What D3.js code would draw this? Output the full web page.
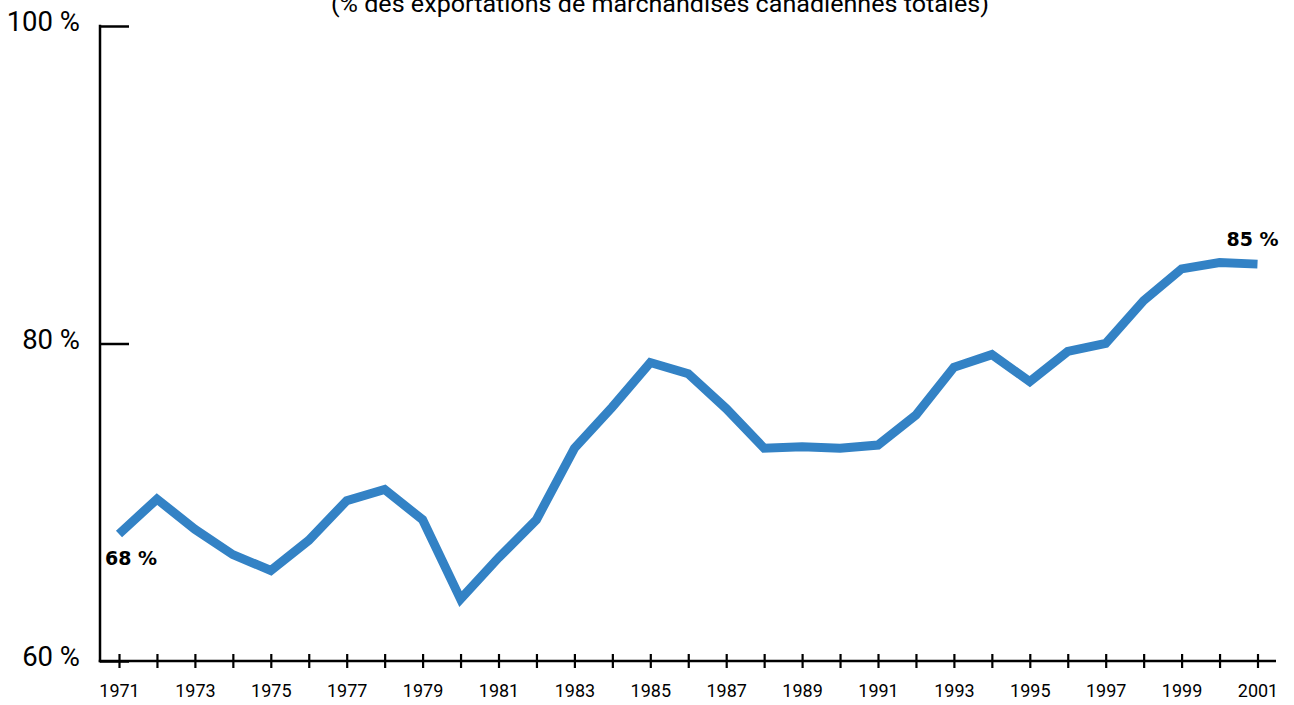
<!DOCTYPE html>
<html lang="fr">
<head>
<meta charset="utf-8">
<script src="https://cdn.jsdelivr.net/npm/d3@7/dist/d3.min.js"></script>
<style>
  html, body { margin: 0; padding: 0; background: #fff; }
  svg { display: block; }
</style>
</head>
<body>
<svg id="chart" width="1294" height="705"></svg>
<script>
// Part des exportations de marchandises canadiennes destinées aux États-Unis, 1971-2001
const years = d3.range(1971, 2002);
const shares = [
  68.0, 70.2, 68.3, 66.7, 65.7, 67.6, 70.1, 70.8, 68.9, 63.9,
  66.5, 68.9, 73.4, 76.0, 78.8, 78.1, 75.9, 73.4, 73.5, 73.4,
  73.6, 75.5, 78.5, 79.3, 77.6, 79.5, 80.0, 82.7, 84.7, 85.1,
  85.0
];
const yTicks = [60, 80, 100];
const subtitle = "(% des exportations de marchandises canadiennes totales)";
const endLabels = [
  { year: 1971, value: 68, text: "68 %" },
  { year: 2001, value: 85, text: "85 %" }
];

const svg = d3.select("#chart");

const x = d3.scaleLinear().domain([1971, 2001]).range([119, 1257.5]);
const y = d3.scaleLinear().domain([60, 100]).range([661, 26]);
const axisLeftX = 100;
const axisRightX = 1276;

// Sous-titre (coupé en haut)
svg.append("text")
  .attr("x", 660)
  .attr("y", 12)
  .attr("text-anchor", "middle")
  .attr("font-family", "'Liberation Sans Narrow', 'Roboto', sans-serif")
  .attr("font-size", 23)
  .attr("textLength", 658)
  .attr("lengthAdjust", "spacingAndGlyphs")
  .attr("fill", "#000")
  .text(subtitle);

// Axe vertical
const yAxis = d3.axisLeft(y)
  .tickValues(yTicks)
  .tickSize(-29)
  .tickPadding(20)
  .tickFormat(d => d + " %");

const gy = svg.append("g")
  .attr("transform", `translate(${axisLeftX},0)`)
  .call(yAxis);
gy.select(".domain").remove();
gy.selectAll(".tick line").attr("stroke", "#000").attr("stroke-width", 2.5);
gy.selectAll(".tick text")
  .attr("font-family", "Roboto, sans-serif")
  .attr("font-size", 27.5)
  .attr("fill", "#000")
  .attr("y", -4);

svg.append("line")
  .attr("x1", axisLeftX).attr("x2", axisLeftX)
  .attr("y1", y(100) - 1.25).attr("y2", y(60) + 1.25)
  .attr("stroke", "#000").attr("stroke-width", 2.5);

// Axe horizontal
const xAxis = d3.axisBottom(x)
  .tickValues(years)
  .tickSize(14)
  .tickPadding(16)
  .tickFormat(d => (d % 2 === 1 ? String(d) : ""));

const gx = svg.append("g")
  .attr("transform", `translate(0,${y(60) - 7})`)
  .call(xAxis);
gx.select(".domain").remove();
gx.selectAll(".tick line").attr("stroke", "#000").attr("stroke-width", 2.2);
gx.selectAll(".tick text")
  .attr("font-family", "Roboto, sans-serif")
  .attr("font-size", 18)
  .attr("fill", "#000");

svg.append("line")
  .attr("x1", axisLeftX - 1.25).attr("x2", axisRightX)
  .attr("y1", y(60)).attr("y2", y(60))
  .attr("stroke", "#000").attr("stroke-width", 2.5);

// Série
const line = d3.line()
  .x((d, i) => x(years[i]))
  .y(d => y(d));

svg.append("path")
  .datum(shares)
  .attr("d", line)
  .attr("fill", "none")
  .attr("stroke", "#3382c5")
  .attr("stroke-width", 9)
  .attr("stroke-linejoin", "miter")
  .attr("stroke-linecap", "butt");

// Étiquettes des valeurs extrêmes
const labelPos = {
  1971: { dx: -14, dy: 31, anchor: "start" },
  2001: { dx: -31, dy: -18, anchor: "start" }
};
svg.selectAll("text.end-label")
  .data(endLabels)
  .join("text")
  .attr("class", "end-label")
  .attr("x", d => x(d.year) + labelPos[d.year].dx)
  .attr("y", d => y(d.value) + labelPos[d.year].dy)
  .attr("text-anchor", d => labelPos[d.year].anchor)
  .attr("font-family", "'DejaVu Sans', sans-serif")
  .attr("font-weight", "bold")
  .attr("font-size", 19)
  .attr("fill", "#000")
  .text(d => d.text);
</script>
</body>
</html>
